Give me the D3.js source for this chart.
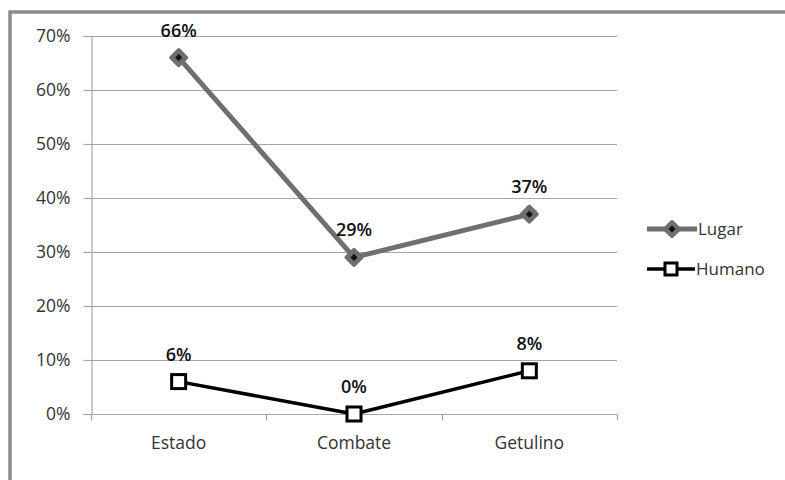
<!DOCTYPE html>
<html>
<head>
<meta charset="utf-8">
<script src="https://cdn.jsdelivr.net/npm/d3@7"></script>
<style>
  html, body { margin: 0; padding: 0; background: #fff; }
  svg { display: block; font-family: "Open Sans", sans-serif; }
</style>
</head>
<body>
<svg id="chart" width="785" height="480"></svg>
<script>
// Categories and series values (percent)
const categories = ["Estado", "Combate", "Getulino"];
const lugar = [66, 29, 37];
const humano = [6, 0, 8];
const yTicks = [0, 10, 20, 30, 40, 50, 60, 70];
const seriesNames = ["Lugar", "Humano"];

const svg = d3.select("#chart");
const W = 785, H = 480;
const margin = { left: 91, right: 168, top: 36, bottom: 66 };

// Outer frame (runs off the right and bottom edges)
svg.append("rect")
  .attr("x", 10).attr("y", 12)
  .attr("width", 800).attr("height", 500)
  .attr("fill", "none").attr("stroke", "#8a8a8a").attr("stroke-width", 3.5);

const x = d3.scaleBand().domain(categories).range([margin.left, W - margin.right]).padding(0);
const y = d3.scaleLinear().domain([0, 70]).range([H - margin.bottom, margin.top]);

const gridColor = "#a6a6a6";

// Horizontal gridlines
svg.append("g").selectAll("line").data(yTicks).join("line")
  .attr("x1", margin.left).attr("x2", W - margin.right)
  .attr("y1", d => Math.round(y(d)) + 0.5).attr("y2", d => Math.round(y(d)) + 0.5)
  .attr("stroke", gridColor).attr("stroke-width", 1.2);

// Y axis
const yAxis = svg.append("g")
  .attr("transform", `translate(${margin.left + 0.5},0)`)
  .call(d3.axisLeft(y).tickValues(yTicks).tickFormat(d => d + "%").tickSize(8).tickPadding(13));
yAxis.select(".domain").attr("stroke", gridColor).attr("stroke-width", 1.2);
yAxis.selectAll(".tick line").attr("stroke", gridColor).attr("stroke-width", 1.2);
yAxis.selectAll(".tick text")
  .attr("font-family", "Open Sans, sans-serif").attr("font-size", 17.5).attr("fill", "#333");

// X axis with ticks on category boundaries
const xAxisG = svg.append("g")
  .attr("transform", `translate(0,${Math.round(y(0)) + 0.5})`);
xAxisG.append("line")
  .attr("x1", margin.left).attr("x2", W - margin.right)
  .attr("stroke", gridColor).attr("stroke-width", 1.2);
const bounds = categories.map(c => x(c)).concat([x(categories[categories.length - 1]) + x.bandwidth()]);
xAxisG.selectAll("line.tk").data(bounds).join("line").attr("class", "tk")
  .attr("x1", d => Math.round(d) + 0.5).attr("x2", d => Math.round(d) + 0.5)
  .attr("y1", 0).attr("y2", 6)
  .attr("stroke", gridColor).attr("stroke-width", 1.2);
xAxisG.selectAll("text").data(categories).join("text")
  .attr("x", d => x(d) + x.bandwidth() / 2)
  .attr("y", 34)
  .attr("text-anchor", "middle")
  .attr("font-size", 17.5).attr("fill", "#333")
  .text(d => d);

const cx = d => x(d) + x.bandwidth() / 2;
const line = d3.line().x(d => cx(d.c)).y(d => y(d.v));

const lugarData = categories.map((c, i) => ({ c, v: lugar[i] }));
const humanoData = categories.map((c, i) => ({ c, v: humano[i] }));

const grayC = "#6f6f6f";

// Lugar series
svg.append("path").datum(lugarData)
  .attr("d", line).attr("fill", "none")
  .attr("stroke", grayC).attr("stroke-width", 5).attr("stroke-linejoin", "round");

const diamond = (g, px, py, s) => {
  g.append("path")
    .attr("d", `M${px},${py - s}L${px + s},${py}L${px},${py + s}L${px - s},${py}Z`)
    .attr("fill", grayC).attr("stroke", grayC).attr("stroke-width", 4).attr("stroke-linejoin", "round");
  g.append("rect")
    .attr("x", px - 2.5).attr("y", py - 2.5).attr("width", 5).attr("height", 5)
    .attr("transform", `rotate(45,${px},${py})`)
    .attr("fill", "#111");
};

const lugarMarks = svg.append("g");
lugarData.forEach(d => diamond(lugarMarks, cx(d.c), y(d.v), 7.5));

// Humano series
svg.append("path").datum(humanoData)
  .attr("d", line).attr("fill", "none")
  .attr("stroke", "#000").attr("stroke-width", 3.5).attr("stroke-linejoin", "round");

svg.append("g").selectAll("rect").data(humanoData).join("rect")
  .attr("x", d => cx(d.c) - 7).attr("y", d => y(d.v) - 7)
  .attr("width", 14).attr("height", 14)
  .attr("fill", "#fff").attr("stroke", "#000").attr("stroke-width", 3);

// Data labels
const labels = lugarData.concat(humanoData);
svg.append("g").selectAll("text").data(labels).join("text")
  .attr("x", d => cx(d.c))
  .attr("y", d => y(d.v) - 21)
  .attr("text-anchor", "middle")
  .attr("font-size", 18).attr("font-weight", 600).attr("fill", "#111")
  .text(d => d.v + "%");

// Legend
const legend = svg.append("g");
const lx = 647, ly = [229, 269];
legend.append("line")
  .attr("x1", lx).attr("x2", lx + 50).attr("y1", ly[0]).attr("y2", ly[0])
  .attr("stroke", grayC).attr("stroke-width", 5);
diamond(legend, lx + 25, ly[0], 7);
legend.append("line")
  .attr("x1", lx).attr("x2", lx + 48).attr("y1", ly[1]).attr("y2", ly[1])
  .attr("stroke", "#000").attr("stroke-width", 3.5);
legend.append("rect")
  .attr("x", lx + 24 - 6).attr("y", ly[1] - 6).attr("width", 12).attr("height", 12)
  .attr("fill", "#fff").attr("stroke", "#000").attr("stroke-width", 3);
legend.selectAll("text").data(seriesNames).join("text")
  .attr("x", (d, i) => i === 0 ? lx + 51 : lx + 49)
  .attr("y", (d, i) => ly[i])
  .attr("dy", "0.35em")
  .attr("font-size", 17).attr("fill", "#333")
  .text(d => d);
</script>
</body>
</html>
